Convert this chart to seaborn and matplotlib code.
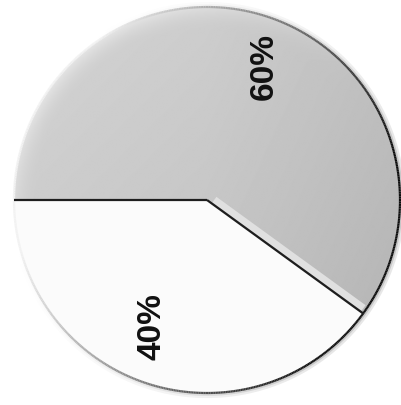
import numpy as np
import matplotlib
matplotlib.use("Agg")
import matplotlib.pyplot as plt
import seaborn as sns
from matplotlib.collections import LineCollection

# --- Data --------------------------------------------------------------------
shares = [60, 40]
slice_colors = ["#c8c8c8", "#fbfbfb"]

sns.set_theme(style="white")
plt.rcParams["font.family"] = ["Liberation Sans", "DejaVu Sans"]

W, H = 402, 405
CX, CY, R = 207, 200, 193   # pie centre / radius in pixels

fig = plt.figure(figsize=(W / 100, H / 100), dpi=100)
ax = fig.add_axes([0, 0, 1, 1])

wedges, texts, autotexts = ax.pie(
    shares,
    colors=slice_colors,
    startangle=180,
    counterclock=False,
    autopct="%d%%",
    pctdistance=0.74,
    wedgeprops=dict(linewidth=0),
)

# soft shading on the grey slice (lighter toward top-left, light fringe at rim)
gx, gy = np.meshgrid(np.linspace(-1, 1, 400), np.linspace(-1, 1, 400))
rr = np.hypot(gx, gy)
ang = np.arctan2(gy, gx)
fringe = np.clip((rr - 0.88) / 0.12, 0, 1) ** 2 * np.clip(np.cos(ang - np.deg2rad(130)), 0, 1)
shade = 0.78 + 0.05 * (gy - gx) / 2 - 0.03 * np.clip(gx, 0, 1) + 0.08 * fringe
img = ax.imshow(shade, extent=[-1, 1, -1, 1], origin="lower", cmap="gray",
                vmin=0, vmax=1, zorder=1.5)
img.set_clip_path(wedges[0])

# light highlight along the inner split line of the grey slice
t2 = np.deg2rad(wedges[0].theta1)
off = 0.024
ax.plot([off * np.cos(t2 + np.pi / 2) + 0.03 * np.cos(t2), np.cos(t2) * 0.985 + off * np.cos(t2 + np.pi / 2)],
        [off * np.sin(t2 + np.pi / 2) + 0.03 * np.sin(t2), np.sin(t2) * 0.985 + off * np.sin(t2 + np.pi / 2)],
        color="#e0e0e0", lw=5, zorder=1.8, solid_capstyle="butt")

# outer rim: dark on the lower right, fading toward the upper left
theta = np.linspace(-180, 180, 721)
mid = (theta[:-1] + theta[1:]) / 2
level = np.clip(0.5 + 0.55 * np.cos(np.deg2rad(mid - 160)), 0.05, 0.95)

# faint outer shadow on the lower-right side
for scale, lw, alpha in [(1.012, 4, 0.10), (1.006, 2.5, 0.15)]:
    p = np.column_stack([np.cos(np.deg2rad(theta)), np.sin(np.deg2rad(theta))]) * scale
    s = np.stack([p[:-1], p[1:]], axis=1)
    sh = [(0, 0, 0, alpha * max(0.0, 1 - v) ** 1.5) for v in level]
    ax.add_collection(LineCollection(s, colors=sh, linewidths=lw, zorder=2.8))

pts = np.column_stack([np.cos(np.deg2rad(theta)), np.sin(np.deg2rad(theta))])
segs = np.stack([pts[:-1], pts[1:]], axis=1)
rim_cols = [(v, v, v, 1.0) for v in level]
ax.add_collection(LineCollection(segs, colors=rim_cols, linewidths=1.6, zorder=3))

# split lines
for a_deg in (wedges[0].theta1, wedges[0].theta2):
    a = np.deg2rad(a_deg)
    ax.plot([0, np.cos(a)], [0, np.sin(a)], color="#1e1e1e", lw=1.6, zorder=3.5,
            solid_capstyle="butt")

# labels
label_pos = [(0.298, 0.694), (-0.285, -0.658)]
for t, pos in zip(autotexts, label_pos):
    t.set_position(pos)
    t.set_rotation(90)
    t.set_fontsize(24)
    t.set_fontweight("bold")
    t.set_color("#111111")
    t.set_zorder(4)

ax.set_xlim(-CX / R, (W - CX) / R)
ax.set_ylim(-(H - CY) / R, CY / R)
ax.set_aspect("equal")
ax.axis("off")

fig.savefig("out.png", dpi=100, facecolor="white")
